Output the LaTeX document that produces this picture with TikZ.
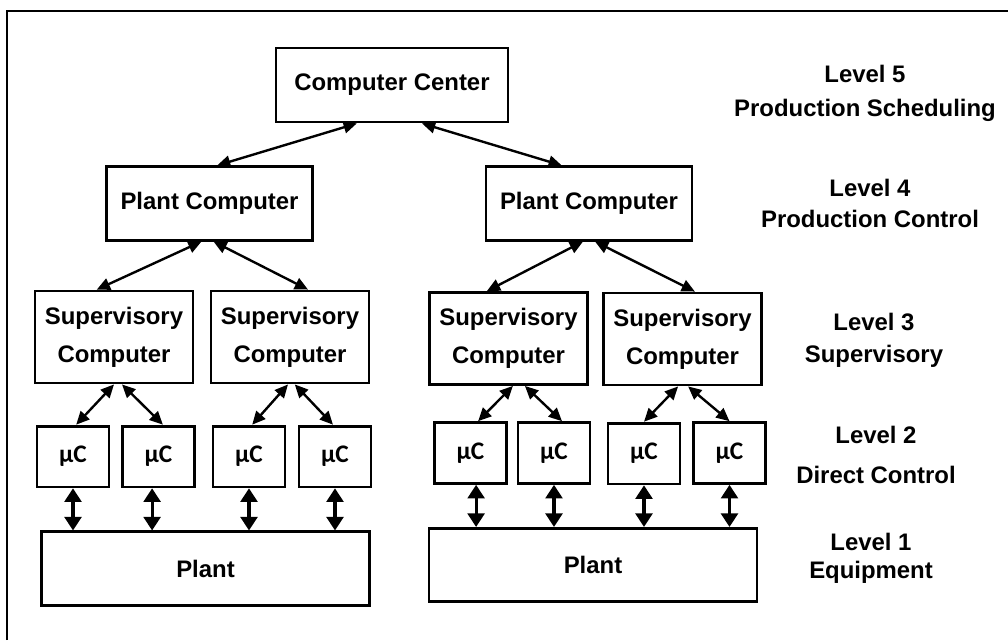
\documentclass[tikz,border=0pt]{standalone}
\usepackage{fontspec}
\setmainfont{Liberation Sans}
\newfontfamily\mcfont{Carlito}
\usetikzlibrary{arrows.meta}

\begin{document}
\begin{tikzpicture}[x=0.025cm, y=-0.025cm,
  compbox/.style={rectangle, draw, line width=2pt, inner sep=0pt, align=center, font=\fontsize{17}{27}\selectfont\bfseries},
  pcbox/.style={compbox, minimum width=5.15cm, minimum height=1.83cm},
  supbox/.style={compbox, minimum width=3.95cm, minimum height=2.3cm},
  mcbox/.style={compbox, minimum width=1.8cm, minimum height=1.52cm, font=\mcfont\fontsize{18}{20}\selectfont\bfseries},
  plantbox/.style={compbox, minimum width=8.2cm, minimum height=1.83cm},
  lvltext/.style={align=center, font=\fontsize{17}{22}\selectfont\bfseries},
  arrow/.style={{Triangle[length=0.33cm,width=0.3cm]}-{Triangle[length=0.33cm,width=0.3cm]}, line width=1.7pt},
  vlink/.style={{Triangle[length=0.34cm,width=0.42cm]}-{Triangle[length=0.34cm,width=0.42cm]}, line width=2.2pt}
]
  \useasboundingbox (0,0) rectangle (1008,640);
  \draw[line width=1.5pt] (7,640) -- (7,11) -- (1008,11);

  % Levels 5 and 4
  \node[compbox, minimum width=5.8cm, minimum height=1.85cm] (cc) at (392,85) {Computer Center};
  \node[pcbox] (pcL) at (209.5,203.5) {Plant Computer};
  \node[pcbox] (pcR) at (589,203.5) {Plant Computer};

  % Level 3
  \node[supbox] (sup1) at (114,337) {Supervisory\\Computer};
  \node[supbox] (sup2) at (290,337) {Supervisory\\Computer};
  \node[supbox] (sup3) at (508.5,338.5) {Supervisory\\Computer};
  \node[supbox] (sup4) at (682.5,339) {Supervisory\\Computer};

  % Level 2
  \node[mcbox] (mc1) at (73,456.5) {µC};
  \node[mcbox] (mc2) at (158.5,456.5) {µC};
  \node[mcbox] (mc3) at (249,456.5) {µC};
  \node[mcbox] (mc4) at (335,456.5) {µC};
  \node[mcbox] (mc5) at (470.5,453) {µC};
  \node[mcbox] (mc6) at (554,453) {µC};
  \node[mcbox] (mc7) at (644,453.5) {µC};
  \node[mcbox] (mc8) at (729.5,453) {µC};

  % Level 1
  \node[plantbox] (plantL) at (205.5,568.5) {Plant};
  \node[plantbox] (plantR) at (593,565) {Plant};

  % Level labels
  \node[lvltext] (lvl5) at (865,93) {Level 5\\[2pt]Production Scheduling};
  \node[lvltext] (lvl4) at (870,203) {Level 4\\Production Control};
  \node[lvltext] (lvl3) at (874,340) {Level 3\\[1pt]Supervisory};
  \node[lvltext] (lvl2) at (876,455) {Level 2\\[6pt]Direct Control};
  \node[lvltext] (lvl1) at (871,558) {Level 1\\[-2pt]Equipment};

  % Arrows
  \draw[arrow] ([xshift=-0.88cm]cc.south) -- ([xshift=0.19cm]pcL.north);
  \draw[arrow] ([xshift=0.75cm]cc.south) -- ([xshift=-0.68cm]pcR.north);
  \draw[arrow] ([xshift=-0.2cm]pcL.south) -- ([xshift=-0.43cm]sup1.north);
  \draw[arrow] ([xshift=0.1cm]pcL.south) -- ([xshift=0.45cm]sup2.north);
  \draw[arrow] ([xshift=-0.15cm]pcR.south) -- ([xshift=-0.54cm]sup3.north);
  \draw[arrow] ([xshift=0.15cm]pcR.south) -- ([xshift=0.31cm]sup4.north);
  \draw[arrow] (sup1.south) -- ([xshift=0.08cm]mc1.north);
  \draw[arrow] ([xshift=0.2cm]sup1.south) -- ([xshift=0.11cm]mc2.north);
  \draw[arrow] ([xshift=-0.05cm]sup2.south) -- ([xshift=0.08cm]mc3.north);
  \draw[arrow] ([xshift=0.12cm]sup2.south) -- ([xshift=-0.05cm]mc4.north);
  \draw[arrow] ([xshift=0.11cm]sup3.south) -- ([xshift=0.19cm]mc5.north);
  \draw[arrow] ([xshift=0.41cm]sup3.south) -- ([xshift=0.2cm]mc6.north);
  \draw[arrow] ([xshift=-0.11cm]sup4.south) -- (mc7.north);
  \draw[arrow] ([xshift=0.14cm]sup4.south) -- (mc8.north);
  \draw[vlink] (mc1.south) -- (mc1.south |- plantL.north);
  \draw[vlink] ([xshift=-0.16cm]mc2.south) -- ([xshift=-0.16cm]mc2.south |- plantL.north);
  \draw[vlink] (mc3.south) -- (mc3.south |- plantL.north);
  \draw[vlink] (mc4.south) -- (mc4.south |- plantL.north);
  \draw[vlink] ([xshift=0.14cm]mc5.south) -- ([xshift=0.14cm]mc5.south |- plantR.north);
  \draw[vlink] (mc6.south) -- (mc6.south |- plantR.north);
  \draw[vlink] (mc7.south) -- (mc7.south |- plantR.north);
  \draw[vlink] (mc8.south) -- (mc8.south |- plantR.north);
\end{tikzpicture}
\end{document}
